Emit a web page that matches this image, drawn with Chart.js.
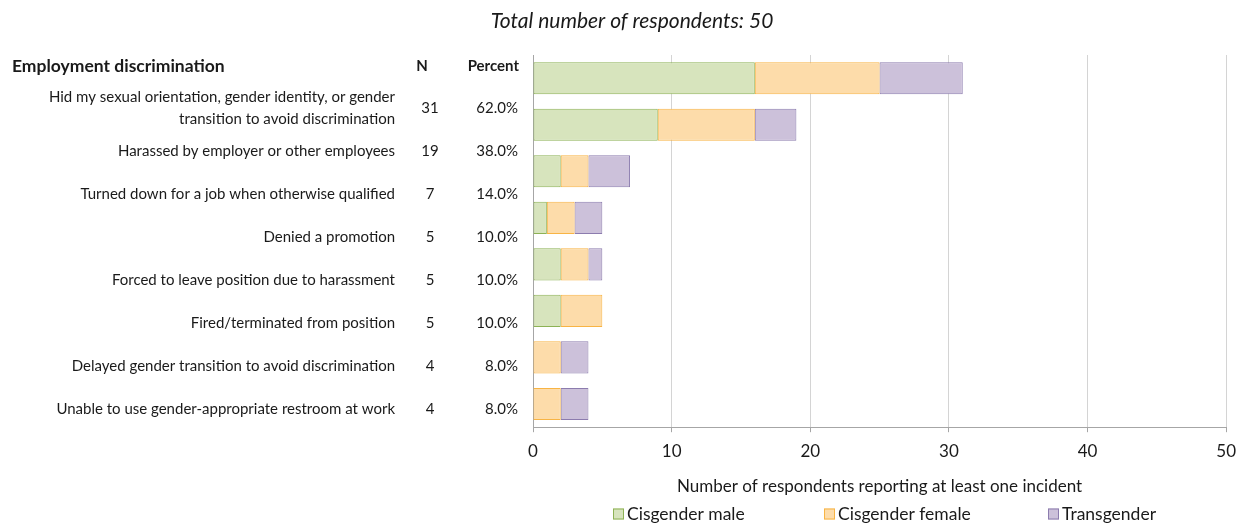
<!DOCTYPE html>
<html>
<head>
<meta charset="utf-8">
<script src="https://cdn.jsdelivr.net/npm/chart.js@4.4.1/dist/chart.umd.min.js"></script>
<style>
  html, body { margin: 0; padding: 0; background: #fff; }
  #wrap { width: 1245px; height: 523px; position: relative; }
</style>
</head>
<body>
<div id="wrap"><canvas id="chart"></canvas></div>
<script>
const categories = [
  ['Hid my sexual orientation, gender identity, or gender', 'transition to avoid discrimination'],
  'Harassed by employer or other employees',
  'Turned down for a job when otherwise qualified',
  'Denied a promotion',
  'Forced to leave position due to harassment',
  'Fired/terminated from position',
  'Delayed gender transition to avoid discrimination',
  'Unable to use gender-appropriate restroom at work'
];
const cisMale = [16, 9, 2, 1, 2, 2, 0, 0];
const cisFemale = [9, 7, 2, 2, 2, 3, 2, 2];
const transgender = [6, 3, 3, 2, 1, 0, 2, 2];
const countN = [31, 19, 7, 5, 5, 5, 4, 4];
const percents = ['62.0%', '38.0%', '14.0%', '10.0%', '10.0%', '10.0%', '8.0%', '8.0%'];
const xTicks = [0, 10, 20, 30, 40, 50];

const FONT = 'Lato, "Open Sans", sans-serif';
const TEXT = '#1a1a1a';

// left-hand table (labels, N, percent), heading and legend row
const tablePlugin = {
  id: 'sideTable',
  afterDraw(chart) {
    const c = chart.ctx;
    c.save();
    c.fillStyle = TEXT;
    c.textBaseline = 'middle';
    c.font = 'italic 21px ' + FONT;
    c.textAlign = 'center';
    c.fillText('Total number of respondents: 50', 632, 21);

    c.font = 'bold 17.5px ' + FONT;
    c.textAlign = 'left';
    c.fillText('Employment discrimination', 12, 66);
    c.font = 'bold 15px ' + FONT;
    c.textAlign = 'center';
    c.fillText('N', 422, 66);
    c.textAlign = 'right';
    c.fillText('Percent', 519, 66);

    c.font = '15px ' + FONT;
    categories.forEach((lab, i) => {
      const y = i === 0 ? 108 : 151 + (i - 1) * 43;
      c.textAlign = 'right';
      if (Array.isArray(lab)) {
        c.fillText(lab[0], 395, y - 11);
        c.fillText(lab[1], 395, y + 11);
      } else {
        c.fillText(lab, 395, y);
      }
      c.textAlign = 'center';
      c.fillText(String(countN[i]), 430, y);
      c.textAlign = 'right';
      c.fillText(percents[i], 518, y);
    });

    // legend
    const legendX = [613, 824, 1048];
    c.font = '17.5px ' + FONT;
    c.textAlign = 'left';
    chart.data.datasets.forEach((ds, i) => {
      const x = legendX[i], y = 514;
      c.fillStyle = ds.backgroundColor;
      c.fillRect(x, y - 5.5, 11, 11);
      c.strokeStyle = ds.borderColor;
      c.lineWidth = 1;
      c.strokeRect(x + 0.5, y - 5, 10, 10);
      c.fillStyle = TEXT;
      c.fillText(ds.label, x + 14, y);
    });
    c.restore();
  }
};

const barDefaults = { borderWidth: 1, borderSkipped: false, barPercentage: 0.69, categoryPercentage: 1 };

new Chart(document.getElementById('chart'), {
  type: 'bar',
  data: {
    labels: categories,
    datasets: [
      { label: 'Cisgender male', data: cisMale, backgroundColor: '#d7e4bd', borderColor: '#8db255', ...barDefaults },
      { label: 'Cisgender female', data: cisFemale, backgroundColor: '#fddcaa', borderColor: '#f8b444', ...barDefaults },
      { label: 'Transgender', data: transgender, backgroundColor: '#ccc1da', borderColor: '#8c7cae', ...barDefaults }
    ]
  },
  options: {
    indexAxis: 'y',
    responsive: true,
    maintainAspectRatio: false,
    animation: false,
    layout: { padding: { left: 533, right: 15, top: 55, bottom: 18 } },
    scales: {
      x: {
        stacked: true,
        min: 0,
        max: 50,
        afterBuildTicks: axis => { axis.ticks = xTicks.map(v => ({ value: v })); },
        grid: { color: '#d4d4d4', lineWidth: 1, tickLength: 5, tickColor: '#a6a6a6' },
        border: { color: '#a6a6a6' },
        ticks: { color: TEXT, font: { family: FONT, size: 17 }, padding: 9 },
        title: {
          display: true,
          text: 'Number of respondents reporting at least one incident',
          color: TEXT,
          font: { family: FONT, size: 17 },
          padding: { top: 6, bottom: 8 }
        }
      },
      y: {
        stacked: true,
        grid: { display: false, drawTicks: false },
        border: { color: '#a6a6a6' },
        ticks: { display: false }
      }
    },
    plugins: {
      legend: { display: false },
      tooltip: { enabled: false }
    }
  },
  plugins: [tablePlugin]
});
</script>
</body>
</html>
